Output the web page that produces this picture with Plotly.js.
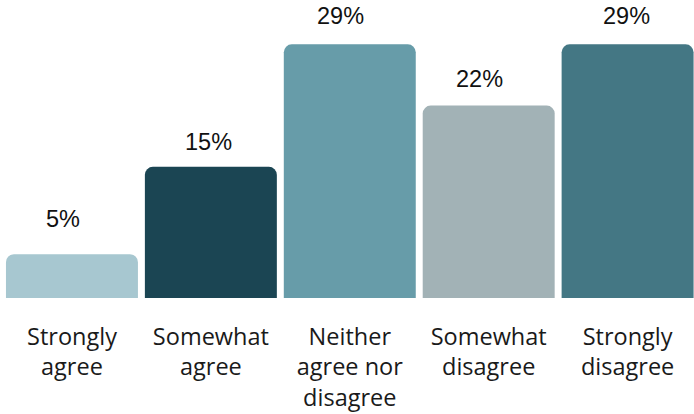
<!DOCTYPE html>
<html><head><meta charset="utf-8">
<script src="https://cdn.plot.ly/plotly-3.0.1.min.js"></script>
<style>html,body{margin:0;padding:0;background:#fff;}#c{width:694px;height:414px;}</style>
</head><body><div id="c"></div>
<script>
var categories = ["Strongly agree", "Somewhat agree", "Neither agree nor disagree", "Somewhat disagree", "Strongly disagree"];
var tickLabels = ["Strongly<br>agree", "Somewhat<br>agree", "Neither<br>agree nor<br>disagree", "Somewhat<br>disagree", "Strongly<br>disagree"];
var values = [5, 15, 29, 22, 29];
var colors = ["#a7c7d0", "#1b4553", "#679ca9", "#a2b2b6", "#447784"];
var labelShiftX = [-9, -2.5, -9, -9, -1];
var labelShiftY = [20, 10, 13, 12, 13];

var trace = {
  type: "bar",
  x: categories,
  y: values,
  marker: {color: colors, cornerradius: 8, line: {width: 0}},
  hoverinfo: "skip"
};
var annotations = categories.map(function(c, i){
  return {x: c, y: values[i], text: values[i] + "%", showarrow: false, xanchor: "center", yanchor: "bottom",
    yshift: labelShiftY[i], xshift: labelShiftX[i],
    font: {family: "Liberation Sans, Arial, sans-serif", size: 23.5, color: "#111111"}};
});
var layout = {
  width: 694, height: 414,
  margin: {l: 0, r: 0, t: 0, b: 116, pad: 0},
  paper_bgcolor: "#ffffff", plot_bgcolor: "#ffffff",
  showlegend: false,
  bargap: 0.05,
  xaxis: {type: "category", range: [-0.518, 4.478], tickvals: categories, ticktext: tickLabels,
    showgrid: false, zeroline: false, showline: false, ticks: "", ticklabelstandoff: 22,
    tickfont: {family: "Open Sans, sans-serif", size: 23.5, color: "#1a1a1a"}},
  yaxis: {range: [0, 34.07], visible: false, showgrid: false, zeroline: false},
  annotations: annotations
};
Plotly.newPlot("c", [trace], layout, {displayModeBar: false, staticPlot: true});
</script></body></html>
